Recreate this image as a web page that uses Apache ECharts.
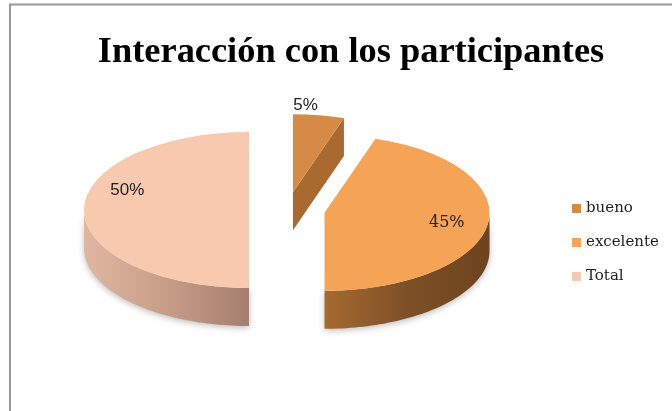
<!DOCTYPE html>
<html>
<head>
<meta charset="utf-8">
<script src="https://cdn.jsdelivr.net/npm/echarts@6/dist/echarts.min.js"></script>
<style>
  html, body { margin: 0; padding: 0; background: #fff; }
  #chart { width: 672px; height: 411px; }
</style>
</head>
<body>
<div id="chart"></div>
<script>
// datos del grafico
var categorias = ['bueno', 'excelente', 'Total'];
var valores = [5, 45, 50];

var coloresTapa = ['#d58b45', '#f5a455', '#f7c9ae'];
var coloresLado = [
  ['#b0712f', '#a86a2e'],
  ['#a56a30', '#7d5027', '#6c441e'],
  ['#dfb7a0', '#c89d88', '#a57e6f']
];
// estilo de etiquetas (fuente y ajuste fino)
var fuentesEtiqueta = ['normal 17px "Liberation Sans"', 'normal 16px "DejaVu Serif"', 'normal 17px "Liberation Sans"'];
var ajusteEtiqueta = [[-17, 2], [0, 1], [2, -20]];

// geometria del pastel 3d
var CX = 287, CY = 210, RA = 165, RB = 78, PROF = 38, SEP = 38;
var K = RB / RA;
var suma = valores.reduce(function (a, b) { return a + b; }, 0);

function rad(g) { return g * Math.PI / 180; }

function renderPorcion(idx) {
  return function (params, api) {
    var v = api.value(0);
    var ini = 0;
    for (var i = 0; i < idx; i++) ini += valores[i];
    var a0 = ini / suma * 360, a1 = (ini + v) / suma * 360, am = (a0 + a1) / 2;
    // centro desplazado (explotado)
    var cx = CX + SEP * Math.sin(rad(am));
    var cy = CY - SEP * K * Math.cos(rad(am));
    function pt(g, dy) {
      return [cx + RA * Math.sin(rad(g)), cy - RB * Math.cos(rad(g)) + (dy || 0)];
    }
    var hijos = [];
    var lado = coloresLado[idx];
    var stops = lado.map(function (c, j) { return { offset: j / (lado.length - 1), color: c }; });
    var grad = new echarts.graphic.LinearGradient(0, 0, 1, 0, stops);

    // caras de corte
    function cara(g, normal) {
      if (-Math.cos(rad(normal)) <= 0.02) return;
      var p = pt(g);
      hijos.push({
        type: 'polygon',
        shape: { points: [[cx, cy], p, [p[0], p[1] + PROF], [cx, cy + PROF]] },
        style: { fill: lado[lado.length - 1], stroke: null }
      });
    }
    cara(a0, a0 - 90);
    cara(a1, a1 + 90);

    // pared exterior visible
    var t0 = Math.max(a0, 90), t1 = Math.min(a1, 270);
    if (t1 > t0) {
      var arriba = [], abajo = [];
      for (var g = t0; g <= t1 + 0.001; g += (t1 - t0) / 60) {
        arriba.push(pt(g));
        abajo.push(pt(g, PROF));
      }
      hijos.push({
        type: 'polygon',
        shape: { points: arriba.concat(abajo.reverse()) },
        style: { fill: grad, stroke: null, shadowBlur: 6, shadowColor: 'rgba(0,0,0,0.25)', shadowOffsetY: 2 }
      });
    }

    // tapa superior
    hijos.push({
      type: 'group',
      x: cx, y: cy, scaleY: K,
      children: [{
        type: 'sector',
        shape: { cx: 0, cy: 0, r0: 0, r: RA, startAngle: rad(a0 - 90), endAngle: rad(a1 - 90), clockwise: true },
        style: { fill: coloresTapa[idx], stroke: null }
      }]
    });

    // etiqueta
    var f = v / suma < 0.1 ? 1.15 : 0.75;
    hijos.push({
      type: 'text',
      x: cx + f * RA * Math.sin(rad(am)) + ajusteEtiqueta[idx][0],
      y: cy - f * RB * Math.cos(rad(am)) + ajusteEtiqueta[idx][1],
      style: {
        text: Math.round(v / suma * 100) + '%',
        fill: '#222',
        font: fuentesEtiqueta[idx],
        align: 'center',
        verticalAlign: 'middle'
      }
    });
    return { type: 'group', children: hijos };
  };
}

var chart = echarts.init(document.getElementById('chart'));
chart.setOption({
  backgroundColor: '#fff',
  animation: false,
  title: {
    text: 'Interacción con los participantes',
    left: 346,
    textAlign: 'center',
    top: 30,
    textStyle: { fontFamily: 'Liberation Serif', fontWeight: 'bold', fontSize: 36.4, color: '#000' }
  },
  legend: {
    orient: 'vertical',
    left: 567,
    top: 196,
    icon: 'rect',
    itemWidth: 9,
    itemHeight: 9,
    itemGap: 19,
    data: categorias,
    textStyle: { fontFamily: 'DejaVu Serif', fontSize: 15, color: '#222' }
  },
  graphic: [{
    type: 'polyline',
    shape: { points: [[10, 420], [10, 4.5], [680, 4.5]] },
    style: { stroke: '#999', lineWidth: 2, fill: null },
    silent: true
  }],
  series: categorias.map(function (nombre, i) {
    return {
      type: 'custom',
      name: nombre,
      coordinateSystem: 'none',
      itemStyle: { color: coloresTapa[i] },
      renderItem: renderPorcion(i),
      data: [[valores[i]]]
    };
  })
});
</script>
</body>
</html>
